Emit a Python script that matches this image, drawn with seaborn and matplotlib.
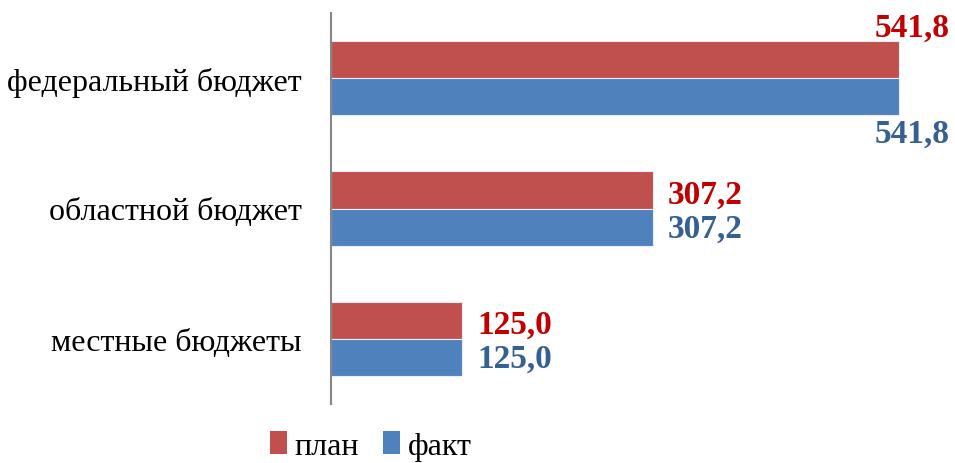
import pandas as pd
import seaborn as sns
import matplotlib
matplotlib.use('Agg')
import matplotlib.pyplot as plt
from matplotlib.patches import Patch

# данные с картинки
categories = ['федеральный бюджет', 'областной бюджет', 'местные бюджеты']
series = ['план', 'факт']
plan = [541.8, 307.2, 125.0]
fact = [541.8, 307.2, 125.0]

bar_colors = ['#C0504D', '#4F81BD']
text_colors = ['#C00000', '#366092']

df = pd.DataFrame({
    'category': categories * 2,
    'series': [series[0]] * 3 + [series[1]] * 3,
    'value': plan + fact,
})

sns.set_style('white')
plt.rcParams['font.family'] = ['Liberation Serif', 'DejaVu Serif']
plt.rcParams['text.color'] = 'black'

W, H = 955, 464
fig = plt.figure(figsize=(W / 100, H / 100), dpi=100)
# оси в пикселях: слева 331, сверху 14, снизу 405
ax = fig.add_axes([331 / W, 1 - 405 / H, 619 / W, 391 / H])

sns.barplot(data=df, x='value', y='category', hue='series', order=categories,
            hue_order=series, palette=bar_colors, saturation=1, orient='h',
            width=0.57, edgecolor='#e6ecf4', linewidth=0.8, legend=False, ax=ax)

ax.set_xlim(0, 619 / 1.0484)
ax.set_ylim(2.5, -0.5)
ax.set_xlabel('')
ax.set_ylabel('')
ax.set_xticks([])
for s in ['top', 'right', 'bottom']:
    ax.spines[s].set_visible(False)
ax.spines['left'].set_color('#868686')
ax.spines['left'].set_linewidth(1.5)
ax.tick_params(axis='y', length=0, pad=21, labelsize=23, labelcolor='black')

px = 0.72  # пункты на пиксель
half = 0.57 / 4
for i, (p, f) in enumerate(zip(plan, fact)):
    for j, v in enumerate((p, f)):
        yc = i - half if j == 0 else i + half
        lbl = f'{v:.1f}'.replace('.', ',')
        if i == 0:
            # самый длинный бар: подписи над и под ним
            dy = 32 if j == 0 else -37
            ax.annotate(lbl, (v, yc), xytext=(51 * px, dy * px),
                        textcoords='offset points', ha='right', va='center',
                        fontsize=24, fontweight='bold', color=text_colors[j])
        else:
            dy = -4 if j == 0 else -1
            ax.annotate(lbl, (v, yc), xytext=(15 * px, dy * px),
                        textcoords='offset points', ha='left', va='center',
                        fontsize=24, fontweight='bold', color=text_colors[j])

handles = [Patch(facecolor=c, edgecolor='none') for c in bar_colors]
fig.legend(handles, series, loc='center', bbox_to_anchor=(371 / W, 1 - 447 / H),
           ncol=2, frameon=False, fontsize=23, handlelength=0.53,
           handleheight=0.75, handletextpad=0.25, columnspacing=0.75,
           labelcolor='black')

fig.savefig('out.png', dpi=100)
